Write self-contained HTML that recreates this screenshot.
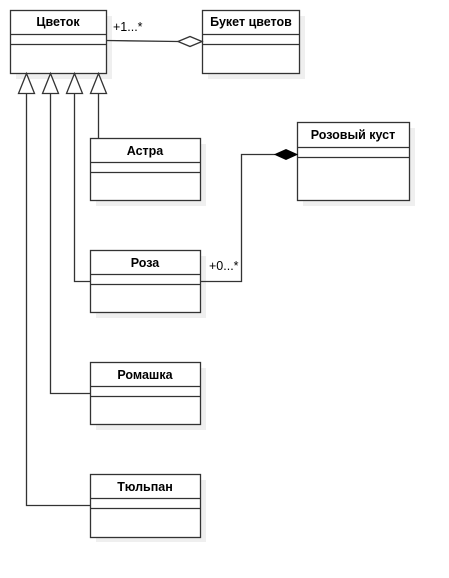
<!DOCTYPE html>
<html><head><meta charset="utf-8"><style>
html,body{margin:0;padding:0;background:#fff;}
svg{display:block;}
text{font-family:"Liberation Sans","DejaVu Sans",sans-serif;font-size:12.5px;}
</style></head><body>
<svg width="449" height="578" viewBox="0 0 449 578" xmlns="http://www.w3.org/2000/svg">
<g fill="#efefef">
<rect x="16" y="16" width="96" height="63"/>
<rect x="208" y="16" width="97" height="63"/>
<rect x="96" y="144" width="110" height="62"/>
<rect x="96" y="256" width="110" height="62"/>
<rect x="96" y="368" width="110" height="62"/>
<rect x="96" y="480" width="110" height="62"/>
<rect x="303" y="128" width="112" height="78"/>
</g>
<g fill="#fff" stroke="#333" stroke-width="1.3">
<rect x="10.5" y="10.5" width="96" height="63"/>
<rect x="202.5" y="10.5" width="97" height="63"/>
<rect x="90.5" y="138.5" width="110" height="62"/>
<rect x="90.5" y="250.5" width="110" height="62"/>
<rect x="90.5" y="362.5" width="110" height="62"/>
<rect x="90.5" y="474.5" width="110" height="63"/>
<rect x="297.5" y="122.5" width="112" height="78"/>
</g>
<g stroke="#333" stroke-width="1.3" fill="none">
<path d="M10 34.5H106M10 44.5H106"/>
<path d="M202 34.5H299M202 44.5H299"/>
<path d="M90 162.5H200M90 172.5H200"/>
<path d="M90 274.5H200M90 284.5H200"/>
<path d="M90 386.5H200M90 396.5H200"/>
<path d="M90 498.5H200M90 508.5H200"/>
<path d="M297 147.5H409M297 157.5H409"/>
<path d="M106 40.5L178 41.5"/>
<path d="M26.5 93V505.5H90"/>
<path d="M50.5 93V393.5H90"/>
<path d="M74.5 93V281.5H90"/>
<path d="M98.5 93V138"/>
<path d="M200 281.5H241.5V154.5H275"/>
</g>
<g fill="#fff" stroke="#333" stroke-width="1.3">
<path d="M26.5 73.5L18.5 93.5H34.5Z"/>
<path d="M50.5 73.5L42.5 93.5H58.5Z"/>
<path d="M74.5 73.5L66.5 93.5H82.5Z"/>
<path d="M98.5 73.5L90.5 93.5H106.5Z"/>
<path d="M178 41.5L190 36.5L202 41.5L190 46.5Z"/>
</g>
<path d="M275 154.5L286 149.5L297 154.5L286 159.5Z" fill="#000" stroke="#000"/>
<g font-weight="bold" text-anchor="middle" fill="#000">
<text x="58" y="26">Цветок</text>
<text x="251" y="26">Букет цветов</text>
<text x="145" y="155">Астра</text>
<text x="145" y="267">Роза</text>
<text x="145" y="379">Ромашка</text>
<text x="145" y="491">Тюльпан</text>
<text x="353" y="139">Розовый куст</text>
</g>
<text x="113" y="31" font-size="11.5">+1...*</text>
<text x="209" y="270" font-size="11.5">+0...*</text>
</svg>
</body></html>
